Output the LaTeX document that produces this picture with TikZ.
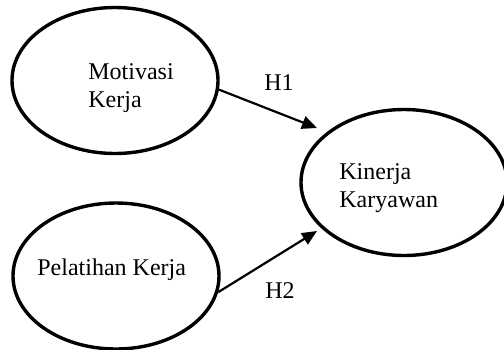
\documentclass[tikz,border=0pt]{standalone}
\usepackage{fontspec}
\setmainfont{Liberation Serif}
\usetikzlibrary{shapes.geometric, arrows.meta}

\begin{document}
\begin{tikzpicture}[x=0.5pt, y=-0.5pt,
    var/.style={ellipse, draw, line width=1.7pt, minimum width=103pt,
                minimum height=73pt, inner sep=0pt},
    txt/.style={font=\fontsize{12}{14}\selectfont, align=left, inner sep=0pt},
    hyp/.style={line width=1.1pt, -{Triangle[length=7.5pt, width=6.5pt]}}]
  \useasboundingbox (0,0) rectangle (504,349);
  % Variables (ellipses)
  \node[var] (mot) at (115,80.5) {};
  \node[var] (pel) at (116,276) {};
  \node[var] (kin) at (404,182.5) {};
  % Variable names (base = last line)
  \node[txt, anchor=base west] (motT) at (88,107) {Motivasi\\Kerja};
  \node[txt, anchor=base west] (pelT) at (37,275) {Pelatihan Kerja};
  \node[txt, anchor=base west] (kinT) at (339,207) {Kinerja\\Karyawan};
  % Hypotheses
  \coordinate (h1tip) at (317,128);
  \coordinate (h2tip) at (317,231);
  \draw[hyp] (mot.-5) -- (h1tip);
  \draw[hyp] (pel.-9) -- (h2tip);
  \node[txt, anchor=base west] (h1) at (264,90) {H1};
  \node[txt, anchor=base west] (h2) at (265,298) {H2};
\end{tikzpicture}
\end{document}
